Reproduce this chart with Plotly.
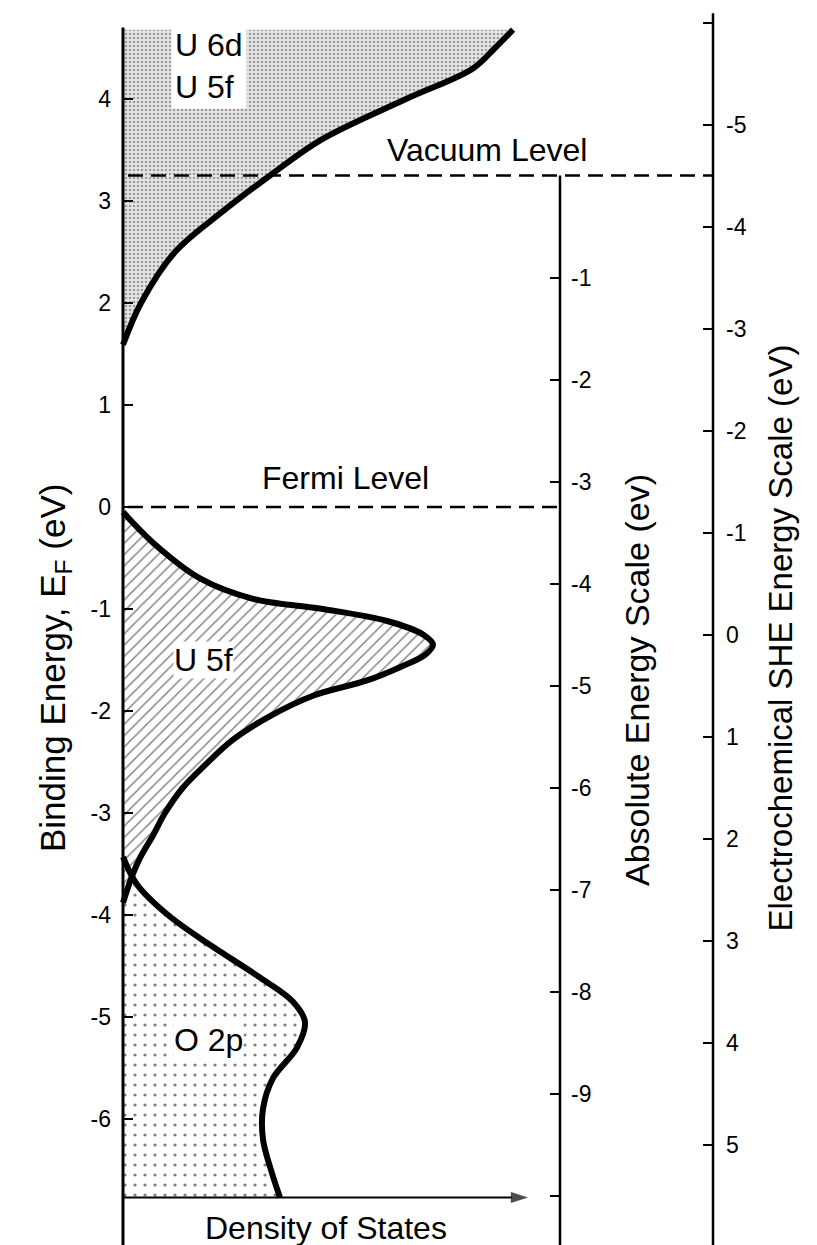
import plotly.graph_objects as go

# ---------------- data ----------------
# Conduction band (U 6d / U 5f): binding energy (eV) and density of states (arb.)
cb_energy = [1.59, 2.0, 2.5, 2.9, 3.25, 3.6, 4.0, 4.3, 4.5, 4.68]
cb_dos    = [0,    18,  52,  100, 147,  198, 283, 350, 372, 390]

# U 5f valence band
u5f_energy = [-0.05, -0.35, -0.70, -0.90, -1.00, -1.12, -1.25, -1.35, -1.45, -1.57, -1.70, -1.85,
              -2.05, -2.28, -2.53, -2.75, -3.00, -3.22, -3.44, -3.62, -3.88]
u5f_dos    = [0,     30,    77,    130,   200,   265,   300,   310,   302,   277,   244,   190,
              147,   110,   82,    60,    42,    30,    17,    9,     0]

# O 2p band
o2p_energy = [-3.43, -3.70, -4.00, -4.30, -4.60, -4.85, -5.05, -5.30, -5.60, -5.90, -6.20, -6.50, -6.77]
o2p_dos    = [0,     14,    45,    88,    135,   170,   182,   174,   150,   140,   140,   148,   157]

# Reference levels
fermi_level = 0.0          # eV (binding energy scale)
vacuum_level = 3.25        # eV (binding energy scale)
she_vs_vacuum = -4.5       # SHE zero on the absolute scale

left_ticks = [4, 3, 2, 1, 0, -1, -2, -3, -4, -5, -6]
abs_ticks = [-1, -2, -3, -4, -5, -6, -7, -8, -9]
abs_minor = [-10]
she_ticks = [-5, -4, -3, -2, -1, 0, 1, 2, 3, 4, 5]
she_minor = [-6]

dos_baseline = -6.77
dos_axis_end = 405

# ---------------- layout geometry ----------------
W, H = 817, 1245
E_TOP, E_BOT = 4.9706, -7.2353
X_AXIS_PX = 123
X_MID_PX = 560
X_RIGHT_PX = 713
FONT = "Liberation Sans, Arial, Helvetica, sans-serif"
SMOOTH = 1.0


def to_abs(e):
    return e - vacuum_level


def to_she(e):
    return -(e - vacuum_level) + she_vs_vacuum


fig = go.Figure()

# fills
fig.add_trace(go.Scatter(
    x=cb_dos, y=cb_energy, mode="lines", fill="tozerox",
    line=dict(width=0, shape="spline", smoothing=SMOOTH), fillcolor="#dcdcdc",
    fillpattern=dict(shape=".", size=4, solidity=0.35, fgcolor="#555555", bgcolor="#e6e6e6"),
    hoverinfo="skip"))
fig.add_trace(go.Scatter(
    x=o2p_dos, y=o2p_energy, mode="lines", fill="tozerox",
    line=dict(width=0, shape="spline", smoothing=SMOOTH), fillcolor="white",
    fillpattern=dict(shape=".", size=10, solidity=0.08, fgcolor="black", bgcolor="white"),
    hoverinfo="skip"))
fig.add_trace(go.Scatter(
    x=u5f_dos, y=u5f_energy, mode="lines", fill="tozerox",
    line=dict(width=0, shape="spline", smoothing=SMOOTH), fillcolor="white",
    fillpattern=dict(shape="/", size=8, solidity=0.18, fgcolor="black", bgcolor="white"),
    hoverinfo="skip"))

# curves
for xs, ys in [(cb_dos, cb_energy), (u5f_dos, u5f_energy), (o2p_dos, o2p_energy)]:
    fig.add_trace(go.Scatter(x=xs, y=ys, mode="lines",
                             line=dict(color="black", width=6, shape="spline", smoothing=SMOOTH),
                             hoverinfo="skip"))

# density-of-states axis with arrow head
fig.add_trace(go.Scatter(
    x=[0, dos_axis_end], y=[dos_baseline, dos_baseline], mode="lines+markers",
    line=dict(color="black", width=2),
    marker=dict(symbol=["circle", "arrow"], size=[0, 18], angleref="previous", color="black",
                line=dict(width=0)),
    hoverinfo="skip"))

# dummy traces so the extra axes exist
fig.add_trace(go.Scatter(x=[None], y=[None], yaxis="y2", hoverinfo="skip"))
fig.add_trace(go.Scatter(x=[None], y=[None], yaxis="y3", hoverinfo="skip"))

px = lambda p: p / W

shapes = [
    # axis lines
    dict(type="line", xref="paper", yref="y", x0=px(X_AXIS_PX), x1=px(X_AXIS_PX), y0=4.70, y1=E_BOT,
         line=dict(color="black", width=3)),
    dict(type="line", xref="paper", yref="y", x0=px(X_MID_PX), x1=px(X_MID_PX), y0=vacuum_level, y1=E_BOT,
         line=dict(color="black", width=2.5)),
    dict(type="line", xref="paper", yref="y", x0=px(X_RIGHT_PX), x1=px(X_RIGHT_PX), y0=4.84, y1=E_BOT,
         line=dict(color="black", width=2.5)),
    # levels
    dict(type="line", xref="paper", yref="y", x0=px(X_AXIS_PX + 5), x1=px(X_RIGHT_PX), y0=vacuum_level, y1=vacuum_level,
         line=dict(color="black", width=2.4, dash="15px,8px")),
    dict(type="line", xref="paper", yref="y", x0=px(X_AXIS_PX + 5), x1=px(X_MID_PX), y0=fermi_level, y1=fermi_level,
         line=dict(color="black", width=2.4, dash="15px,8px")),
]

lab = dict(size=32, family=FONT, color="black")
annotations = [
    dict(x=48, y=4.32, xref="x", yref="y", text="U 6d<br>U 5f", showarrow=False, xanchor="left",
         font=lab, bgcolor="white", align="left", borderpad=3),
    dict(x=50, y=-1.5, xref="x", yref="y", text="U 5f", showarrow=False, xanchor="left",
         font=lab, bgcolor="white", borderpad=0),
    dict(x=50, y=-5.23, xref="x", yref="y", text="O 2p", showarrow=False, xanchor="left",
         font=lab, bgcolor="white", borderpad=0),
    dict(x=262, y=3.5, xref="x", yref="y", text="Vacuum Level", showarrow=False, xanchor="left", font=lab),
    dict(x=137, y=0.28, xref="x", yref="y", text="Fermi Level", showarrow=False, xanchor="left", font=lab),
    dict(x=203, y=-7.07, xref="x", yref="y", text="Density of States", showarrow=False, font=lab),
    # axis titles
    dict(x=px(31), y=1 - 668 / H, xref="paper", yref="paper", text="Binding Energy, E<sub>F</sub> (eV)",
         showarrow=False, textangle=-90, font=dict(size=35, family=FONT, color="black")),
    dict(x=px(658), y=1 - 680 / H, xref="paper", yref="paper", text="Absolute Energy Scale (ev)",
         showarrow=False, textangle=-90, font=dict(size=34, family=FONT, color="black")),
    dict(x=px(800), y=1 - 638 / H, xref="paper", yref="paper", text="Electrochemical SHE Energy Scale (eV)",
         showarrow=False, textangle=-90, font=dict(size=33, family=FONT, color="black")),
]

tickfont = dict(size=23, family=FONT, color="black")

fig.update_layout(
    width=W, height=H, margin=dict(l=0, r=0, t=0, b=0),
    paper_bgcolor="white", plot_bgcolor="white", showlegend=False,
    xaxis=dict(range=[-X_AXIS_PX, W - X_AXIS_PX], visible=False, fixedrange=True),
    yaxis=dict(range=[E_BOT, E_TOP], anchor="free", position=px(X_AXIS_PX), side="left",
               showgrid=False, zeroline=False, showline=False,
               tickvals=left_ticks, ticktext=[str(v) for v in left_ticks],
               ticks="inside", ticklen=9, tickwidth=2, tickcolor="black",
               tickfont=tickfont, ticklabelstandoff=12, automargin=False),
    yaxis2=dict(range=[to_abs(E_BOT), to_abs(E_TOP)], overlaying="y", anchor="free", position=px(X_MID_PX),
                side="right", showgrid=False, zeroline=False, showline=False,
                tickvals=abs_ticks, ticktext=[str(v) for v in abs_ticks],
                ticks="inside", ticklen=10, tickwidth=2, tickcolor="black",
                minor=dict(tickvals=abs_minor, ticks="inside", ticklen=10, tickwidth=2, tickcolor="black",
                           showgrid=False),
                tickfont=tickfont, ticklabelstandoff=10, automargin=False),
    yaxis3=dict(range=[to_she(E_BOT), to_she(E_TOP)], overlaying="y", anchor="free", position=px(X_RIGHT_PX),
                side="right", showgrid=False, zeroline=False, showline=False,
                tickvals=she_ticks, ticktext=[str(v) for v in she_ticks],
                ticks="inside", ticklen=10, tickwidth=2, tickcolor="black",
                minor=dict(tickvals=she_minor, ticks="inside", ticklen=10, tickwidth=2, tickcolor="black",
                           showgrid=False),
                tickfont=tickfont, ticklabelstandoff=12, automargin=False),
    shapes=shapes,
    annotations=annotations,
)

fig.write_html("out.html")
